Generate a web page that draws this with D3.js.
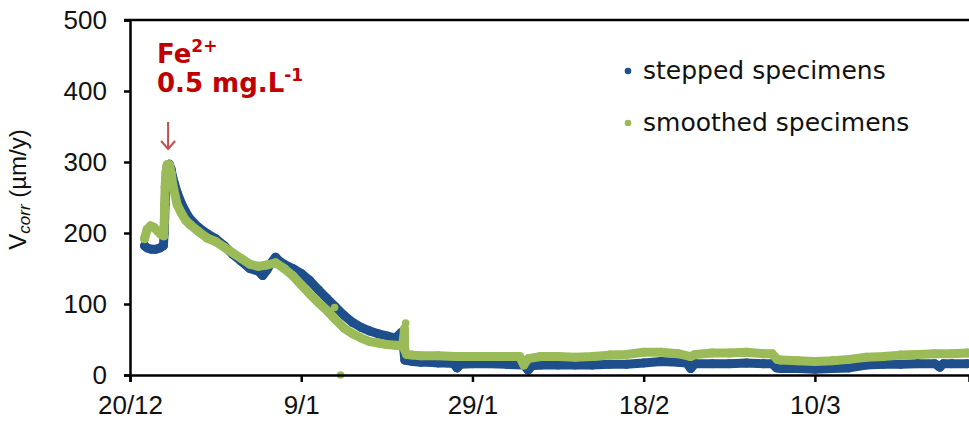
<!DOCTYPE html>
<html>
<head>
<meta charset="utf-8">
<script src="https://cdn.jsdelivr.net/npm/d3@7"></script>
<style>
  html, body { margin: 0; padding: 0; background: #ffffff; }
  svg { display: block; }
</style>
</head>
<body>
<svg id="chart" width="969" height="426"></svg>
<script>
// ---- data (days after 20/12) ----
const startDate = new Date(2012, 11, 20);
const endDayOffset = 98;

const steppedDays = [1.7, 2.0, 2.5, 3.0, 3.5, 3.9, 4.0, 4.1, 4.2, 4.35, 4.6, 4.8, 5.0, 5.5, 6.0, 6.5, 7, 8, 9, 10, 11, 12, 13, 14, 15, 15.5, 16, 16.5, 17, 17.5, 18, 19, 20, 21, 22, 23, 24, 25, 26, 27, 28, 29, 30, 31, 31.7, 31.9, 32.1, 33, 34, 35, 36, 37, 37.8, 38.2, 38.6, 40, 42, 44, 46, 46.5, 47, 48, 50, 52, 54, 56, 58, 60, 62, 64, 65, 65.5, 66, 68, 70, 72, 74, 75, 75.5, 76, 78, 80, 82, 84, 86, 88, 90, 92, 94, 94.6, 95, 96, 97.8];
const steppedValues = [182, 179, 177, 177, 179, 182, 200, 240, 275, 295, 297, 290, 278, 257, 242, 230, 220, 208, 199, 192, 182, 170, 160, 150, 146, 140, 148, 158, 166, 160, 156, 150, 143, 133, 120, 108, 96, 84, 74, 67, 62, 58, 55, 52, 60, 45, 21, 19, 18, 18, 17, 17, 16, 10, 15, 16, 16, 15, 14, 7, 13, 14, 14, 14, 14, 15, 15, 17, 19, 18, 17, 9, 16, 16, 16, 17, 16, 16, 10, 9, 9, 8, 9, 10, 14, 15, 15, 16, 16, 11, 16, 16, 16];

const smoothedDays = [1.7, 2.0, 2.4, 2.8, 3.2, 3.6, 3.95, 4.0, 4.05, 4.1, 4.2, 4.35, 4.6, 4.8, 5.0, 5.5, 6.0, 6.5, 7, 8, 9, 10, 11, 12, 13, 14, 15, 16, 17, 18, 19, 20, 21, 22, 23, 24, 25, 26, 27, 28, 29, 30, 31, 31.8, 32.0, 32.05, 32.1, 32.3, 33, 34, 36, 38, 40, 42, 44, 45.5, 46, 46.5, 48, 50, 52, 54, 56, 58, 60, 62, 64, 65.5, 66, 68, 70, 72, 74, 75, 75.6, 76, 78, 80, 82, 84, 86, 88, 90, 92, 94, 96, 97.8];
const smoothedValues = [192, 205, 210, 208, 203, 198, 196, 215, 240, 265, 285, 296, 296, 285, 268, 240, 228, 218, 212, 202, 193, 188, 180, 172, 164, 156, 153, 155, 158, 150, 140, 127, 114, 102, 91, 78, 66, 58, 52, 47, 45, 43, 42, 41, 55, 65, 35, 29, 28, 27, 27, 26, 26, 26, 26, 26, 14, 23, 26, 26, 25, 26, 28, 29, 32, 32, 30, 26, 29, 31, 31, 32, 30, 30, 22, 21, 20, 19, 20, 22, 25, 26, 28, 29, 30, 30, 31];

const smoothedOutlierDays = [23.9, 24.6, 32.2];
const smoothedOutlierValues = [95, 0, 73];

const yTicks = [0, 100, 200, 300, 400, 500];
const xTickDays = [0, 20, 40, 60, 80];
const xTickLabels = ["20/12", "9/1", "29/1", "18/2", "10/3"];

const seriesNames = ["stepped specimens", "smoothed specimens"];
const seriesColors = ["#1f4e8c", "#9bbb59"];

// ---- drawing ----
const svg = d3.select("#chart");
const W = 969, H = 426;
const m = { left: 130, right: 0, top: 20, bottom: 51 };

const toDate = d => new Date(startDate.getTime() + d * 86400000);

const x = d3.scaleTime()
  .domain([startDate, toDate(endDayOffset)])
  .range([m.left, W - m.right]);
const y = d3.scaleLinear().domain([0, 500]).range([H - m.bottom, m.top]);

svg.append("rect").attr("width", W).attr("height", H).attr("fill", "#fff");

// data
const line = d3.line().x(d => x(toDate(d[0]))).y(d => y(d[1]));
const stepped = steppedDays.map((d, i) => [d, steppedValues[i]]);
const smoothed = smoothedDays.map((d, i) => [d, smoothedValues[i]]);
const outliers = smoothedOutlierDays.map((d, i) => [d, smoothedOutlierValues[i]]);

[[stepped, seriesColors[0]], [smoothed, seriesColors[1]]].forEach(([data, color]) => {
  svg.append("path").datum(data)
    .attr("d", line)
    .attr("fill", "none")
    .attr("stroke", color)
    .attr("stroke-width", 9)
    .attr("stroke-linejoin", "round")
    .attr("stroke-linecap", "round");
  svg.append("g").selectAll("circle").data(data).join("circle")
    .attr("cx", d => x(toDate(d[0])))
    .attr("cy", d => y(d[1]))
    .attr("r", 4.5)
    .attr("fill", color);
});
svg.append("g").selectAll("circle").data(outliers).join("circle")
  .attr("cx", d => x(toDate(d[0])))
  .attr("cy", d => y(d[1]))
  .attr("r", 3.8)
  .attr("fill", seriesColors[1]);

// axes
const yAxis = d3.axisLeft(y).tickValues(yTicks).tickSize(6).tickPadding(17);
const gy = svg.append("g").attr("transform", `translate(${m.left},0)`).call(yAxis);
const xAxis = d3.axisBottom(x).tickValues(xTickDays.map(toDate))
  .tickFormat((d, i) => xTickLabels[i]).tickSize(7).tickPadding(14);
const gx = svg.append("g").attr("transform", `translate(0,${H - m.bottom})`).call(xAxis);

[gx, gy].forEach(g => {
  g.select(".domain").attr("stroke", "#000").attr("stroke-width", 2.5);
  g.selectAll(".tick line").attr("stroke", "#000").attr("stroke-width", 2.5);
  g.selectAll(".tick text").attr("fill", "#111")
    .style("font-family", "'Liberation Sans', Arial, sans-serif")
    .style("font-size", "26px");
});
// top border
svg.append("line").attr("x1", m.left - 6).attr("x2", W).attr("y1", y(500)).attr("y2", y(500))
  .attr("stroke", "#000").attr("stroke-width", 2.5);

// y title
const yt = svg.append("text")
  .attr("transform", `translate(26,${(y(0) + y(500)) / 2 - 8}) rotate(-90)`)
  .attr("text-anchor", "middle")
  .style("font-family", "'Liberation Sans', Arial, sans-serif")
  .style("font-size", "24px")
  .attr("fill", "#111");
yt.append("tspan").text("V");
yt.append("tspan").text("corr").style("font-style", "italic").style("font-size", "17px").attr("dy", 4);
yt.append("tspan").text(" (µm/y)").attr("dy", -4);

// annotation
const ann = svg.append("text")
  .attr("x", 157).attr("y", 63)
  .style("font-family", "'DejaVu Sans', Verdana, sans-serif")
  .style("font-weight", "bold").style("font-size", "26px")
  .attr("fill", "#c00000");
ann.append("tspan").text("Fe");
ann.append("tspan").text("2+").style("font-size", "17px").attr("dy", -11);
const ann2 = svg.append("text")
  .attr("x", 157).attr("y", 92)
  .style("font-family", "'DejaVu Sans', Verdana, sans-serif")
  .style("font-weight", "bold").style("font-size", "26px")
  .attr("fill", "#c00000");
ann2.append("tspan").text("0.5 mg.L");
ann2.append("tspan").text("-1").style("font-size", "17px").attr("dy", -11);

// arrow
const arrowX = x(toDate(4.45));
svg.append("path")
  .attr("d", `M${arrowX},122 L${arrowX},149 M${arrowX - 7},141 L${arrowX},149 L${arrowX + 7},141`)
  .attr("fill", "none").attr("stroke", "#c0504d").attr("stroke-width", 2);

// legend
const leg = svg.append("g");
seriesNames.forEach((name, i) => {
  const ly = 71 + i * 52;
  leg.append("circle").attr("cx", 628).attr("cy", ly).attr("r", 3.3).attr("fill", seriesColors[i]);
  leg.append("text").attr("x", 643).attr("y", ly + 8).text(name)
    .style("font-family", "'DejaVu Sans', Verdana, sans-serif")
    .style("font-size", "25px").attr("fill", "#111");
});
</script>
</body>
</html>
